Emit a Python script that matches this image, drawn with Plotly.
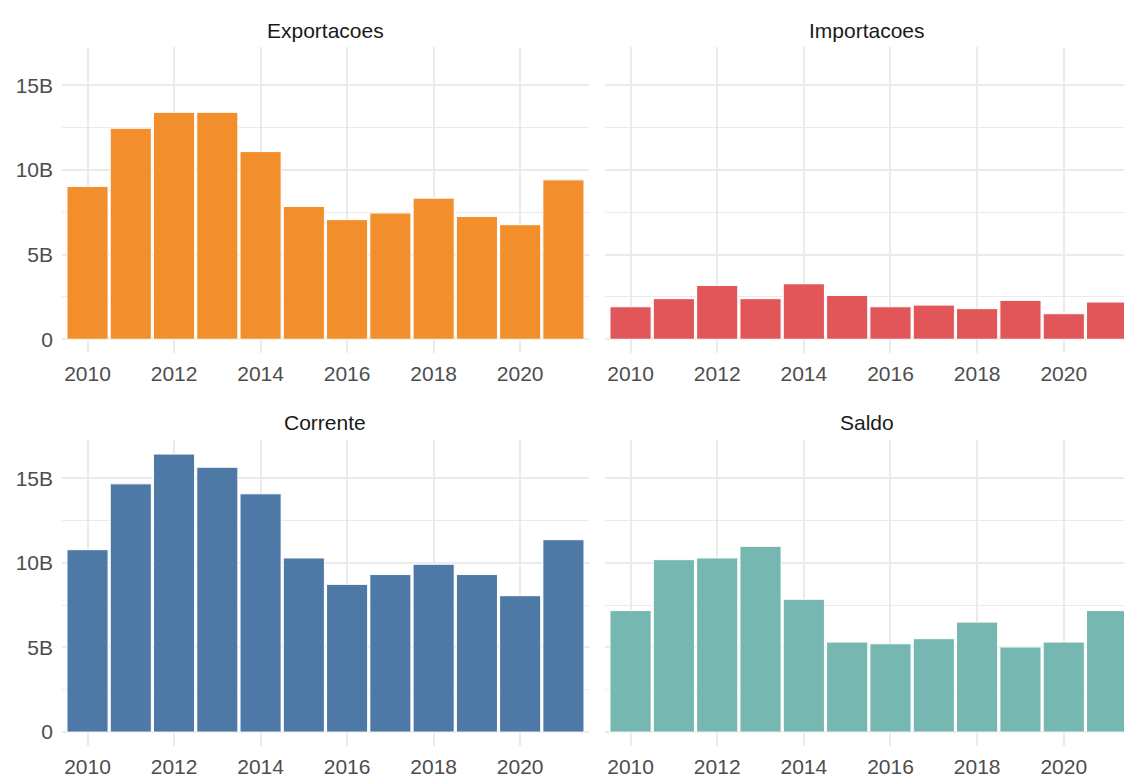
import plotly.graph_objects as go

years = [2010, 2011, 2012, 2013, 2014, 2015, 2016, 2017, 2018, 2019, 2020, 2021]
exportacoes = [9.03, 12.47, 13.41, 13.41, 11.09, 7.85, 7.07, 7.46, 8.34, 7.26, 6.77, 9.42]
importacoes = [1.92, 2.40, 3.18, 2.40, 3.28, 2.59, 1.92, 2.02, 1.81, 2.30, 1.51, 2.20]
corrente = [10.78, 14.67, 16.43, 15.65, 14.08, 10.29, 8.73, 9.31, 9.92, 9.31, 8.06, 11.37]
saldo = [7.18, 10.19, 10.29, 10.98, 7.85, 5.32, 5.22, 5.52, 6.50, 5.03, 5.32, 7.18]

panel_titles = ["Exportacoes", "Importacoes", "Corrente", "Saldo"]
panel_colors = ["#F28E2B", "#E15759", "#4E79A7", "#76B7B2"]
series = [exportacoes, importacoes, corrente, saldo]

y_tickvals = [0, 5e9, 10e9, 15e9]
y_ticktext = ["0", "5B", "10B", "15B"]
y_minorvals = [2.5e9, 7.5e9, 12.5e9]
x_tickvals = [2010, 2012, 2014, 2016, 2018, 2020]
x_ticktext = ["2010", "2012", "2014", "2016", "2018", "2020"]

FONT = "Liberation Sans, Arial, sans-serif"
GRID = "#ebebeb"

fig = go.Figure()

x_domains = [[0, 0.4962], [0.5113, 1.0], [0, 0.4962], [0.5113, 1.0]]
y_domains = [[0.562, 1.0], [0.562, 1.0], [0, 0.438], [0, 0.438]]
x_ranges = [[2009.41, 2021.59], [2009.41, 2021.39], [2009.41, 2021.59], [2009.41, 2021.39]]
title_x = [0.2481, 0.758, 0.2481, 0.758]
title_y = [1.0235, 1.0235, 0.4635, 0.4635]

for i in range(4):
    sfx = "" if i == 0 else str(i + 1)
    fig.add_trace(go.Bar(
        x=years,
        y=[v * 1e9 for v in series[i]],
        marker=dict(color=panel_colors[i], line=dict(color="white", width=1)),
        xaxis="x" + sfx, yaxis="y" + sfx,
        showlegend=False,
    ))
    fig.layout["xaxis" + sfx] = dict(
        domain=x_domains[i], anchor="y" + sfx, range=x_ranges[i],
        tickmode="array", tickvals=x_tickvals, ticktext=x_ticktext,
        showgrid=True, gridcolor=GRID, gridwidth=2.2, zeroline=False,
        showline=False, ticks="", ticklabelstandoff=6,
        tickfont=dict(family=FONT, size=21, color="#4d4d4d"),
    )
    fig.layout["yaxis" + sfx] = dict(
        domain=y_domains[i], anchor="x" + sfx, range=[-0.82e9, 17.27e9],
        tickmode="array", tickvals=y_tickvals, ticktext=y_ticktext,
        showticklabels=(i % 2 == 0),
        showgrid=True, gridcolor=GRID, gridwidth=2.2, zeroline=False,
        showline=False, ticks="", ticklabelstandoff=8,
        tickfont=dict(family=FONT, size=21, color="#4d4d4d"),
        minor=dict(tickmode="array", tickvals=y_minorvals, showgrid=True,
                   gridcolor=GRID, gridwidth=1.1),
    )
    fig.add_annotation(
        text=panel_titles[i], x=title_x[i], y=title_y[i],
        xref="paper", yref="paper", xanchor="center", yanchor="middle",
        showarrow=False, font=dict(family=FONT, size=21, color="#1a1a1a"),
    )

fig.update_layout(
    width=1124, height=778,
    margin=dict(l=62, r=0, t=47, b=30),
    paper_bgcolor="white", plot_bgcolor="white",
    bargap=0.05,
)

fig.write_html(
    "out.html",
    config={"displayModeBar": False},
    post_script="document.body.style.margin='0';document.body.style.overflow='hidden';",
)
